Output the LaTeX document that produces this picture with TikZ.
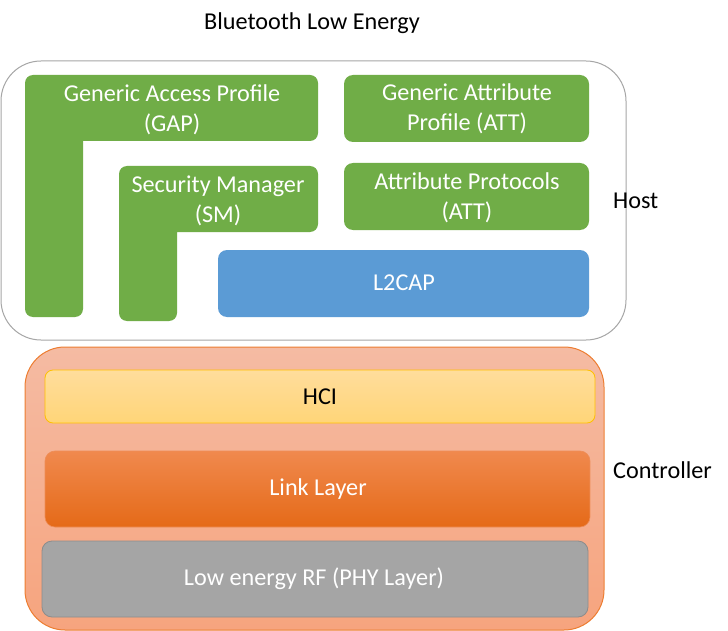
\documentclass[tikz,border=0pt]{standalone}
\usepackage{fontspec}
\setmainfont{Carlito}
\begin{document}
\begin{tikzpicture}[x=1pt,y=-1pt,
  lbl/.style={inner sep=0pt,align=center,font=\fontsize{24.2}{29.5}\selectfont},
  wlbl/.style={lbl,text=white},
  greenbox/.style={fill=gapgreen,draw=none},
]
\definecolor{gapgreen}{HTML}{70AD47}
\definecolor{l2blue}{HTML}{5B9BD5}
\definecolor{phygray}{HTML}{A5A5A5}
\definecolor{phyedge}{HTML}{8C8C8C}
\definecolor{hostedge}{HTML}{A6A6A6}
\definecolor{ctrledge}{HTML}{ED7D31}
\definecolor{ctrltop}{HTML}{F5BBA3}
\definecolor{ctrlbot}{HTML}{F6A47E}
\definecolor{hcitop}{HTML}{FFDD9C}
\definecolor{hcibot}{HTML}{FFD578}
\definecolor{hciedge}{HTML}{FFC000}
\definecolor{lltop}{HTML}{F0894E}
\definecolor{llmid}{HTML}{F47F2B}
\definecolor{llbot}{HTML}{E56A18}
\definecolor{lledge}{HTML}{EE8D57}
\useasboundingbox (0,0) rectangle (728,631);
\fill[white] (0,0) rectangle (728,631);

% title
\node[lbl] (title) at (312,23) {Bluetooth Low Energy};

% host container
\draw[hostedge,line width=1pt,rounded corners=40] (1,61) rectangle (626,340);
\node[lbl,anchor=west] (host) at (613,201) {Host};

% GAP L-shape
\fill[gapgreen,rounded corners=8] (83,141) [sharp corners] -- (83,141) [rounded corners=8] -- (318,141) -- (318,75) -- (25,75) -- (25,317) -- (83,317) -- cycle;
\node[wlbl] (gap) at (172,110) {Generic Access Profile\\(GAP)};

% SM L-shape
\fill[gapgreen,rounded corners=8] (177,232) [sharp corners] -- (177,232) [rounded corners=8] -- (318,232) -- (318,166) -- (119,166) -- (119,321) -- (177,321) -- cycle;
\node[wlbl] (sm) at (218,201) {Security Manager\\(SM)};

% GATT
\fill[gapgreen,rounded corners=9] (344,75) rectangle (589,142);
\node[wlbl] (gatt) at (467,109) {Generic Attribute\\Profile (ATT)};

% ATT
\fill[gapgreen,rounded corners=9] (344,163) rectangle (589,230);
\node[wlbl] (att) at (467,198) {Attribute Protocols\\(ATT)};

% L2CAP
\fill[l2blue,rounded corners=9] (218,250) rectangle (589,317);
\node[wlbl] (l2cap) at (404,283) {L2CAP};

% controller container
\shade[top color=ctrltop,bottom color=ctrlbot,rounded corners=40] (25,347) rectangle (604,630);
\draw[ctrledge,line width=1pt,rounded corners=40] (25,347) rectangle (604,630);
\node[lbl,anchor=west] (ctrl) at (613,470) {Controller};

% HCI
\shade[top color=hcitop,bottom color=hcibot,rounded corners=8] (45,370) rectangle (595,423);
\draw[hciedge,line width=0.8pt,rounded corners=8] (45,370) rectangle (595,423);
\node[lbl] (hci) at (320,397) {HCI};

% Link layer
\shade[top color=lltop,middle color=llmid,bottom color=llbot,rounded corners=10] (45,451) rectangle (590,527);
\draw[lledge,line width=0.6pt,rounded corners=10] (45,451) rectangle (590,527);
\node[wlbl] (ll) at (318,489) {Link Layer};

% PHY
\fill[phygray,rounded corners=10] (42,541) rectangle (588,617);
\draw[phyedge,line width=0.8pt,rounded corners=10] (42,541) rectangle (588,617);
\node[wlbl] (phy) at (314,579) {Low energy RF (PHY Layer)};
\end{tikzpicture}
\end{document}
